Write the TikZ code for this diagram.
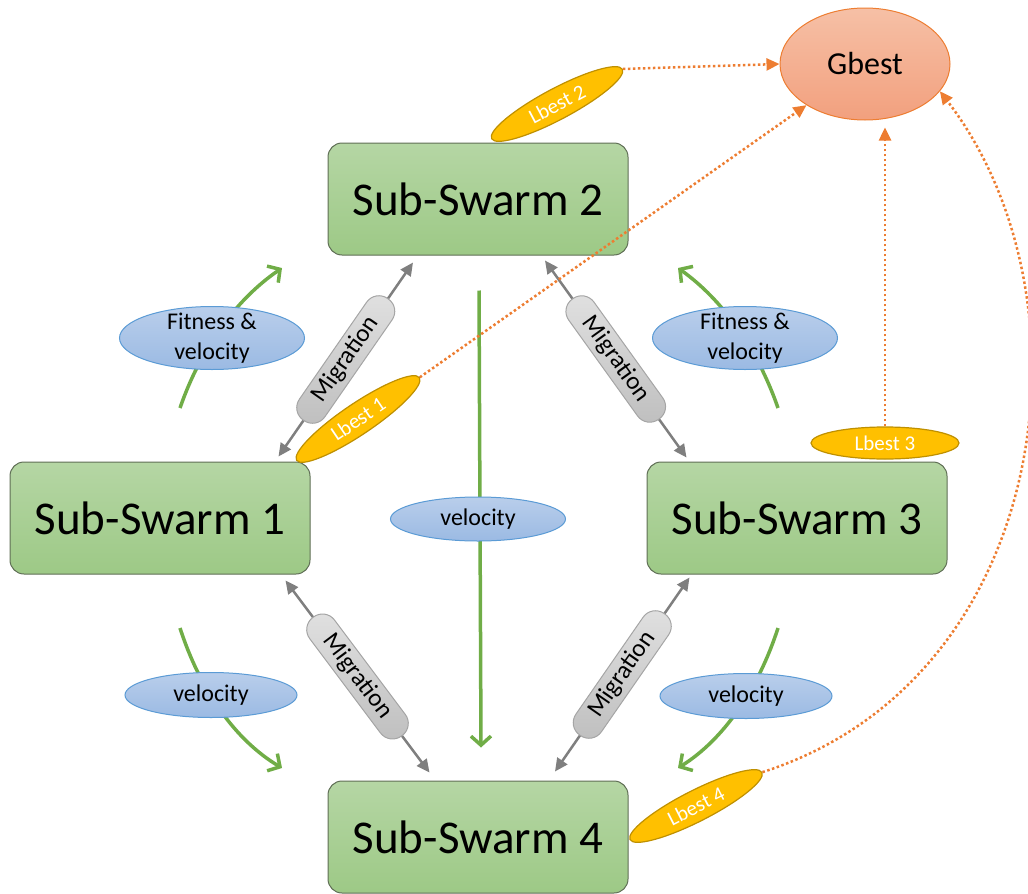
\documentclass[tikz,border=0pt]{standalone}
\usepackage{fontspec}
\setmainfont{Carlito}
\usetikzlibrary{shapes.geometric,arrows.meta,calc}

\definecolor{boxtop}{RGB}{181,214,164}
\definecolor{boxbot}{RGB}{157,201,134}
\definecolor{boxline}{RGB}{95,110,85}
\definecolor{gbtop}{RGB}{246,192,166}
\definecolor{gbbot}{RGB}{242,160,126}
\definecolor{gbline}{RGB}{237,125,49}
\definecolor{lbfill}{RGB}{255,192,0}
\definecolor{lbline}{RGB}{191,144,0}
\definecolor{bltop}{RGB}{185,206,235}
\definecolor{blbot}{RGB}{155,186,227}
\definecolor{blline}{RGB}{91,155,213}
\definecolor{pilltop}{RGB}{225,225,225}
\definecolor{pillbot}{RGB}{190,190,190}
\definecolor{pillline}{RGB}{165,165,165}
\definecolor{arrgray}{RGB}{127,127,127}
\definecolor{arrgreen}{RGB}{112,173,71}
\definecolor{dotorange}{RGB}{237,125,49}

\begin{document}
\begin{tikzpicture}[x=1pt,y=-1pt,
 swarm/.style={rectangle, rounded corners=14pt, draw=boxline, line width=1pt, top color=boxtop, bottom color=boxbot, minimum width=300pt, minimum height=112pt, font=\fontsize{47}{50}\selectfont},
 gbnode/.style={ellipse, draw=gbline, line width=1pt, top color=gbtop, bottom color=gbbot, minimum width=170pt, minimum height=112pt, font=\fontsize{32}{36}\selectfont},
 lbnode/.style={ellipse, draw=lbline, line width=1.2pt, fill=lbfill, minimum width=148pt, minimum height=31pt, inner sep=0pt, text=white, font=\fontsize{21}{24}\selectfont},
 infonode/.style={ellipse, draw=blline, line width=1pt, top color=bltop, bottom color=blbot, inner sep=0pt, font=\fontsize{24}{30}\selectfont},
 infotext/.style={font=\fontsize{24}{30}\selectfont, align=center},
 pill/.style={rectangle, rounded corners=15pt, draw=pillline, line width=1pt, top color=pilltop, bottom color=pillbot, minimum width=148pt, minimum height=31pt, inner sep=0pt, text=black, font=\fontsize{25}{28}\selectfont, sloped},
 migr/.style={arrgray, line width=2.5pt, {Triangle[length=13pt,width=12pt]}-{Triangle[length=13pt,width=12pt]}},
 flow/.style={arrgreen, line width=3.5pt, -{Straight Barb[length=9pt,width=20pt]}},
 bestlink/.style={dotorange, line width=2.5pt, dash pattern=on 2.5pt off 2.5pt, -{Triangle[length=13pt,width=12pt]}},
]
\useasboundingbox (0,0) rectangle (1028,894);

% sub-swarms and Gbest
\node[swarm] (ss2) at (478,199) {Sub-Swarm 2};
\node[swarm] (ss1) at (160,518) {Sub-Swarm 1};
\node[swarm] (ss3) at (797,518) {Sub-Swarm 3};
\node[swarm] (ss4) at (478,837) {Sub-Swarm 4};
\node[gbnode] (gb) at (865,64) {Gbest};

% green flow arrows
\coordinate (g1a) at (180,408); \coordinate (g1b) at (282,268);
\coordinate (g2a) at (778,408); \coordinate (g2b) at (678,268);
\coordinate (g3a) at (180,628); \coordinate (g3b) at (282,768);
\coordinate (g4a) at (778,628); \coordinate (g4b) at (678,768);
\coordinate (gma) at ($(ss2.south)+(1,35)$);
\coordinate (gmb) at ($(ss4.north)+(3,-33)$);
\draw[flow] (g1a) .. controls (200,350) and (235,300) .. (g1b);
\draw[flow] (g2a) .. controls (758,350) and (723,300) .. (g2b);
\draw[flow] (g3a) .. controls (200,690) and (235,740) .. (g3b);
\draw[flow] (g4a) .. controls (758,690) and (723,740) .. (g4b);
\draw[flow] (gma) -- (gmb);

% info ellipses
\node[infonode, minimum width=185pt, minimum height=63pt,
      label={[infotext]center:Fitness \&\\velocity}] (fv1) at (212,338) {};
\node[infonode, minimum width=185pt, minimum height=63pt,
      label={[infotext]center:Fitness \&\\velocity}] (fv2) at (745,338) {};
\node[infonode, minimum width=172pt, minimum height=45pt] (v1) at (211,695) {velocity};
\node[infonode, minimum width=172pt, minimum height=45pt] (v2) at (746,696) {velocity};
\node[infonode, minimum width=175pt, minimum height=44pt] (vm) at (478,519) {velocity};

% migration links
\draw[migr] ($(ss1.north east)+(-32,-5)$) -- node[pill] (mg12) {Migration} ($(ss2.south)+(-65,7)$);
\draw[migr] ($(ss2.south)+(67,5)$) -- node[pill] (mg23) {Migration} ($(ss3.north west)+(40,-4)$);
\draw[migr] ($(ss1.south east)+(-25,6)$) -- node[pill] (mg14) {Migration} ($(ss4.north west)+(102,-8)$);
\draw[migr] ($(ss4.north)+(77,-9)$) -- node[pill] (mg34) {Migration} ($(ss3.south west)+(43,3)$);

% local bests
\node[lbnode, rotate=28] (lb2) at (557,104) {Lbest 2};
\node[lbnode, rotate=34] (lb1) at (358,419) {Lbest 1};
\node[lbnode, minimum height=32pt] (lb3) at (885,443) {Lbest 3};
\node[lbnode, rotate=27] (lb4) at (696,806) {Lbest 4};

% links to Gbest
\draw[bestlink] (lb2.east) -- (gb.west);
\draw[bestlink] (lb1.east) -- (gb);
\draw[bestlink, shorten >=7pt] (lb3.north) -- (lb3.north |- gb.south);
\draw[bestlink] (lb4.east) .. controls (1050,680) and (1100,300) .. (gb.-20);
\end{tikzpicture}
\end{document}
